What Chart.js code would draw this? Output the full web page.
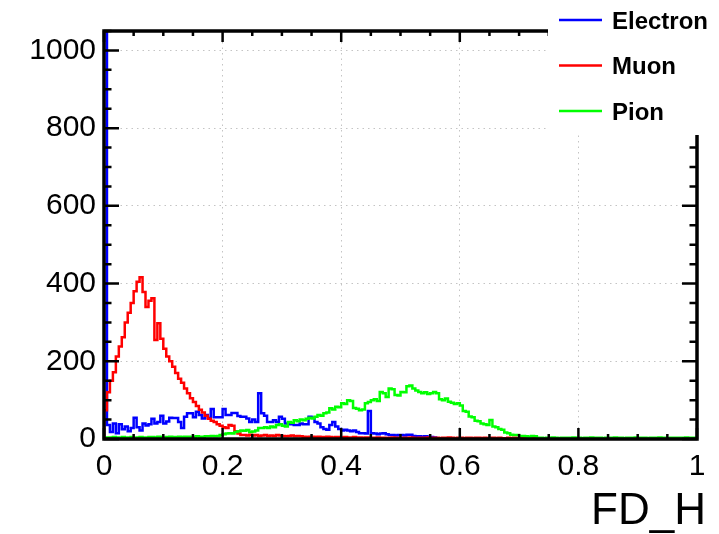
<!DOCTYPE html>
<html>
<head>
<meta charset="utf-8">
<script src="https://cdn.jsdelivr.net/npm/chart.js@4.4.1/dist/chart.umd.min.js"></script>
<style>
  html, body { margin: 0; padding: 0; background: #fff; }
  #wrap { width: 719px; height: 534px; position: relative; }
</style>
</head>
<body>
<div id="wrap"><canvas id="fd-h"></canvas></div>
<script>
// histogram binning (200 bins over 0..1)
const NBINS = 200;
const XMIN = 0;
const XMAX = 1;
const YMAX = 1050;
const xTitle = "FD_H";

const seriesNames = ["Electron", "Muon", "Pion"];
const seriesColors = ["#0000ff", "#ff0000", "#00ff00"];

// bin contents
const electron = [
  1100, 36, 18, 40, 15, 38, 25, 32, 20, 28, 55,
  30, 22, 40, 35, 38, 52, 40, 44, 60, 40, 45, 55, 54,
  54, 44, 28, 57, 66, 66, 56, 70, 62, 53, 62, 54, 77, 56, 56, 56, 77, 62, 62, 67, 67, 59, 57, 57, 53, 44, 50,
  44, 118, 66, 60, 44, 44, 48, 44, 57, 52, 40, 38, 38, 36, 36, 40, 38, 38, 57, 55,
  44, 40, 30, 26, 24, 36, 44, 32, 26, 22, 24, 22, 20, 22, 18, 15, 15, 14, 72,
  15, 14, 12, 14, 15, 12, 10, 10, 9, 10, 10, 9, 11, 11, 8, 7, 7, 6, 7, 6, 5, 4,
  0, 0, 0, 0, 0, 0, 0, 0, 0, 0, 0, 0, 0, 0, 0, 0, 0, 0, 0, 0,
  0, 0, 0, 0, 0, 0, 0, 0, 0, 0, 0, 0, 0, 0, 0, 0, 0, 0, 0, 0,
  0, 0, 0, 0, 0, 0, 0, 0, 0, 0, 0, 0, 0, 0, 0, 0, 0, 0, 0, 0,
  0, 0, 0, 0, 0, 0, 0, 0, 0, 0, 0, 0, 0, 0, 0, 0, 0, 0, 0, 0,
  0, 0, 0, 0, 0, 0, 0, 0
];
const muon = [
  74, 120, 150, 172, 212, 238, 262, 300, 325, 350, 380, 405, 416,
  378, 340, 356, 362, 255, 298, 258, 232, 212, 200, 186, 170,
  155, 145, 130, 118, 105, 95, 85, 75, 68, 60, 52, 47, 44, 38, 34, 30, 28, 36, 34, 20, 14, 10,
  10, 9, 11, 9, 10, 8, 9, 10, 8,
  9, 8, 10, 9, 8, 7, 8, 9, 7, 8, 7,
  6, 5, 6, 6, 5, 6, 5, 5, 6, 5, 4, 5, 5, 4, 5, 4, 4, 5, 4, 4, 3, 4, 4, 3,
  3, 4, 3, 3, 2, 3, 4, 3, 3, 2, 3, 3, 4, 3, 2, 3, 3, 3, 4, 2,
  3, 3, 2, 3, 3, 4, 3, 2, 3, 3, 2, 3, 3, 2, 3, 3, 2, 3, 2, 3,
  3, 2, 3, 2, 2, 3, 2, 3, 2, 2, 3, 2, 2, 3, 2, 2,
  0, 0, 0, 0, 0, 0, 0, 0, 0, 0, 0, 0, 0, 0, 0, 0, 0, 0, 0, 0,
  0, 0, 0, 0, 0, 0, 0, 0, 0, 0, 0, 0, 0, 0, 0, 0, 0, 0, 0, 0,
  0, 0, 0, 0, 0, 0, 0, 0, 0, 0, 0, 0, 0
];
const pion = [
  3, 4, 4, 5, 4, 3, 5, 4, 4, 5, 3, 4, 5, 4, 4, 5, 5, 4, 6, 5,
  4, 5, 6, 5, 5, 6, 5, 6, 6, 5, 6, 7, 6, 6, 7, 7, 8, 7,
  8, 10, 12, 14, 15, 14, 18, 20, 22,
  21, 23, 18, 19, 22, 28, 28, 30, 28, 32, 30, 36, 38, 34, 32, 44, 42, 48, 46, 50,
  48, 52, 55, 53, 57, 62, 60, 66, 68, 79, 76, 83, 82, 92, 90, 100, 98, 80, 78, 74,
  76, 92, 95, 100, 102, 98,
  121, 118, 108, 130, 128, 113, 112, 121, 120, 136, 138, 130, 125, 121, 118, 120, 116, 118, 121, 118,
  102, 100, 104, 96, 93, 90, 92, 86, 72, 70, 58, 56, 47, 46, 40, 38, 36, 49, 32, 30,
  26, 24, 17, 15, 11, 10, 10, 8, 8, 7, 6, 8, 7, 3,
  3, 2, 3, 3, 4, 3, 2, 3, 3, 3, 3, 4, 3, 3, 2, 3, 3, 4, 3, 3,
  3, 2, 3, 3, 3, 4, 3, 3, 2, 3, 3, 3, 4, 3, 3, 3, 2, 3, 3, 3,
  4, 3, 3, 2, 3, 3, 3, 3, 3, 4, 3, 3, 3
];

// axis ticks
const xMajorStep = 0.2;
const xMinorStep = 0.05;
const yMajorStep = 200;
const yMinorStep = 50;

const binWidth = (XMAX - XMIN) / NBINS;
const toSteps = (values) => {
  const pts = [{ x: XMIN, y: 0 }];
  values.forEach((v, i) => pts.push({ x: XMIN + i * binWidth, y: v }));
  pts.push({ x: XMAX, y: values[values.length - 1] });
  return pts;
};

const FONT = "'Liberation Sans', Helvetica, Arial, sans-serif";
const plainNum = (v) => String(Math.round(v * 1000) / 1000);

// ROOT-like frame with inner ticks on all four sides
const rootFrame = {
  id: "rootFrame",
  afterDatasetsDraw(chart) {
    const { ctx, chartArea: a } = chart;
    const xs = chart.scales.x, ys = chart.scales.y;
    ctx.save();
    ctx.strokeStyle = "#000";
    ctx.lineWidth = 2.5;
    ctx.beginPath();
    const nx = Math.round((XMAX - XMIN) / xMinorStep);
    for (let i = 0; i <= nx; i++) {
      const v = XMIN + i * xMinorStep;
      const major = Math.abs(v / xMajorStep - Math.round(v / xMajorStep)) < 1e-6;
      const len = major ? 11 : 5;
      const px = xs.getPixelForValue(v);
      ctx.moveTo(px, a.bottom); ctx.lineTo(px, a.bottom - len);
      ctx.moveTo(px, a.top); ctx.lineTo(px, a.top + len);
    }
    for (let v = 0; v <= YMAX; v += yMinorStep) {
      const major = v % yMajorStep === 0;
      const len = major ? 15 : 7.5;
      const py = ys.getPixelForValue(v);
      ctx.moveTo(a.left, py); ctx.lineTo(a.left + len, py);
      ctx.moveTo(a.right, py); ctx.lineTo(a.right - len, py);
    }
    ctx.stroke();
    ctx.lineWidth = 3.5;
    ctx.strokeRect(a.left, a.top, a.right - a.left, a.bottom - a.top);
    ctx.restore();
  },
  afterDraw(chart) {
    const { ctx } = chart;
    ctx.save();
    // x axis title, right aligned like ROOT
    ctx.fillStyle = "#000";
    ctx.font = "44px " + FONT;
    ctx.textAlign = "right";
    ctx.textBaseline = "alphabetic";
    ctx.fillText(xTitle, 706, 524);
    // legend box
    ctx.textAlign = "left";
    ctx.fillStyle = "#fff";
    ctx.fillRect(548, 0, 171, 135);
    ctx.font = "bold 24px " + FONT;
    ctx.textBaseline = "middle";
    chart.data.datasets.forEach((ds, i) => {
      const y = 20 + i * 45.5;
      ctx.strokeStyle = ds.borderColor;
      ctx.lineWidth = 2.5;
      ctx.beginPath();
      ctx.moveTo(559, y); ctx.lineTo(602, y);
      ctx.stroke();
      ctx.fillStyle = "#000";
      ctx.fillText(ds.label, 612, y + 2);
    });
    ctx.restore();
  }
};

const data = {
  datasets: [electron, muon, pion].map((vals, i) => ({
    label: seriesNames[i],
    data: toSteps(vals),
    borderColor: seriesColors[i],
    backgroundColor: seriesColors[i],
    borderWidth: 2.5,
    pointRadius: 0,
    stepped: true,
    fill: false,
    order: 3 - i,
  })),
};

const config = {
  type: "line",
  data: data,
  options: {
    responsive: true,
    maintainAspectRatio: false,
    animation: false,
    layout: { padding: { top: 31, right: 22, left: 0, bottom: 0 } },
    plugins: { legend: { display: false }, tooltip: { enabled: false } },
    scales: {
      x: {
        type: "linear",
        min: XMIN,
        max: XMAX,
        afterFit: (s) => { s.height = 95; },
        ticks: { stepSize: xMajorStep, color: "#000", padding: 10, maxRotation: 0,
                 callback: plainNum, font: { family: FONT, size: 30 } },
        grid: { color: "#c4c4c4", lineWidth: 1, drawTicks: false },
        border: { display: false, dash: [1.5, 4] },
      },
      y: {
        min: 0,
        max: YMAX,
        afterFit: (s) => { s.width = 104; },
        ticks: { stepSize: yMajorStep, includeBounds: false, color: "#000", padding: 8,
                 callback: plainNum, font: { family: FONT, size: 30 } },
        grid: { color: "#c4c4c4", lineWidth: 1, drawTicks: false },
        border: { display: false, dash: [1.5, 4] },
      },
    },
  },
  plugins: [rootFrame],
};

const myChart = new Chart(document.getElementById("fd-h"), config);
</script>
</body>
</html>
